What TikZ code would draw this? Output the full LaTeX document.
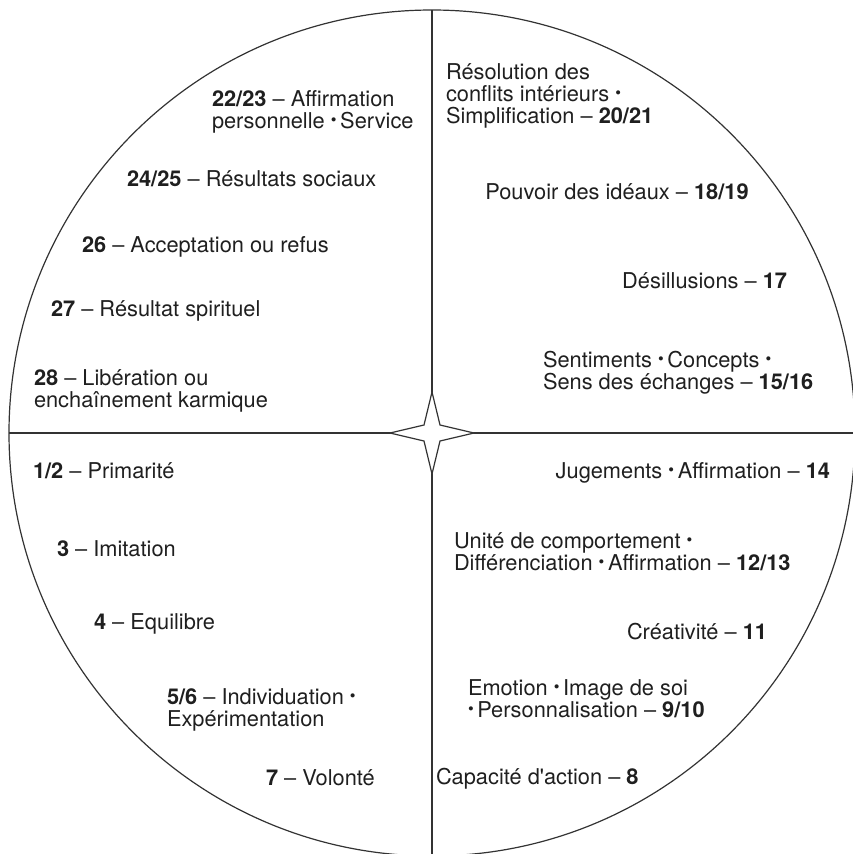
\documentclass[tikz,border=0pt]{standalone}
\usepackage{fontspec}
\usepackage{graphicx}
\setmainfont{TeX Gyre Heros}
\newcommand{\bul}{\raisebox{0.18ex}{\scalebox{0.75}{•}}}
\tikzset{
  lbl/.style={inner sep=0pt, outer sep=0pt, align=left, font=\fontsize{21.8}{22}\selectfont, text=black!88},
  lw/.style={lbl, anchor=base west},
  le/.style={lbl, anchor=base east},
  lc/.style={lbl, anchor=base},
  frame/.style={line width=1.2pt, draw=black!80}
}
\begin{document}
\begin{tikzpicture}[x=1pt,y=-1pt]
\useasboundingbox (0,0) rectangle (853,854);
\coordinate (c) at (432,433);
\draw[frame] (c) circle[radius=423];
\coordinate (top) at (432,10);
\coordinate (bot) at (432,857);
\coordinate (lft) at (9,433);
\coordinate (rgt) at (855,433);
\draw[frame] (top) -- (bot);
\draw[frame] (lft) -- (rgt);
\draw[frame, fill=white, line join=miter]
  (432,392) -- (440,425) -- (474,433) -- (440,441) -- (432,474)
  -- (424,441) -- (390,433) -- (424,425) -- cycle;
% top left (multi-line nodes: anchor at last baseline)
\node[lw] (n22) at (212,128) {\textbf{22/23} – Affirmation\\personnelle \bul\,Service};
\node[lw] (n24) at (127,186) {\textbf{24/25} – Résultats sociaux};
\node[lw] (n26) at (82,252) {\textbf{26} – Acceptation ou refus};
\node[lw] (n27) at (51,316) {\textbf{27} – Résultat spirituel};
\node[lw] (n28) at (34,407) {\textbf{28} – Libération ou\\enchaînement karmique};
% bottom left
\node[lw] (n1) at (33,478) {\textbf{1/2} – Primarité};
\node[lw] (n3) at (57,556) {\textbf{3} – Imitation};
\node[lw] (n4) at (94,629) {\textbf{4} – Equilibre};
\node[lw] (n5) at (167,726) {\textbf{5/6} – Individuation \bul\\Expérimentation};
\node[lw] (n7) at (266,785) {\textbf{7} – Volonté};
% bottom right
\node[le] (n14) at (830,478) {Jugements \bul\,Affirmation – \textbf{14}};
\node[lw] (n12) at (454,570) {Unité de comportement \bul\\Différenciation \bul\,Affirmation – \textbf{12/13}};
\node[le] (n11) at (767,639) {Créativité – \textbf{11}};
\node[lw] (n9) at (468,717) {Emotion \bul\,Image de soi\\\bul\,Personnalisation – \textbf{9/10}};
\node[lw] (n8) at (436,784) {Capacité d\textquotesingle action – \textbf{8}};
% top right
\node[lw] (n20) at (446,123) {Résolution des\\conflits intérieurs \bul\\Simplification – \textbf{20/21}};
\node[lc] (n18) at (617,199) {Pouvoir des idéaux – \textbf{18/19}};
\node[le] (n17) at (787,288) {Désillusions – \textbf{17}};
\node[lw] (n15) at (543,389) {Sentiments \bul\,Concepts \bul\\Sens des échanges – \textbf{15/16}};
\end{tikzpicture}
\end{document}
